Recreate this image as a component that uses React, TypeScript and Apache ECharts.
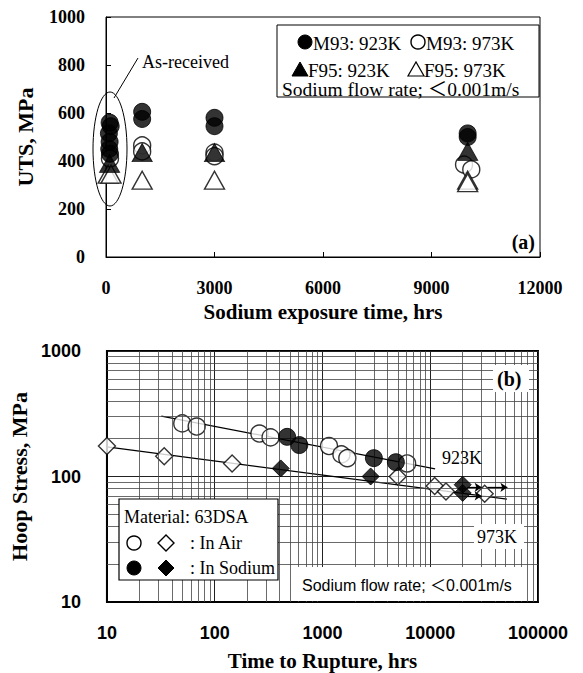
import React, { useEffect, useRef } from "react";
import * as echarts from "echarts";

// ---- (a) UTS vs sodium exposure time ----
const M93_923K: number[][] = [
  [100, 560], [130, 545], [80, 515], [100, 480], [90, 450], [110, 430],
  [1000, 605], [1000, 575],
  [3000, 580], [3000, 545],
  [10000, 515], [10000, 500],
];
const M93_973K: number[][] = [
  [110, 410],
  [1000, 465], [1000, 440],
  [3000, 435], [3000, 420],
  [9900, 385], [10100, 365],
];
const F95_923K: number[][] = [
  [100, 390],
  [1000, 435],
  [3000, 435],
  [10000, 440],
];
const F95_973K: number[][] = [
  [60, 345], [140, 345],
  [1000, 320],
  [3000, 320],
  [10000, 320], [10000, 310],
];

// ---- (b) Hoop stress vs time to rupture ----
const AIR_923K: number[][] = [
  [50, 265], [68, 250], [260, 220], [330, 205], [1150, 175], [1500, 150], [1700, 140], [6100, 127],
];
const SODIUM_923K: number[][] = [
  [470, 207], [610, 178], [3000, 140], [4800, 130],
];
const AIR_973K: number[][] = [
  [10, 175], [34, 145], [145, 127], [5000, 100], [11000, 84], [14000, 76], [32000, 73],
];
const SODIUM_973K: number[][] = [
  [410, 116], [2800, 100], [20000, 86], [20000, 74],
];
const FIT_923K: number[][] = [[32, 303], [11100, 115]];
const FIT_973K: number[][] = [[10, 172], [51500, 66]];
const RUNOUT_ARROWS: number[][][] = [
  [[22000, 82], [30000, 82]],
  [[34000, 82], [52000, 82]],
  [[22000, 70], [30000, 70]],
];
const MINOR_X: number[] = [];
const MINOR_Y: number[] = [];
for (const d of [10, 100, 1000, 10000]) for (let k = 2; k <= 9; k++) MINOR_X.push(k * d);
for (const d of [10, 100]) for (let k = 2; k <= 9; k++) MINOR_Y.push(k * d);

const SERIF = "'Liberation Serif', 'Times New Roman', serif";
const SANS = "'Liberation Sans', Arial, sans-serif";
const SERIF_CJK = "'Liberation Serif', 'Noto Sans CJK JP', serif";
const SANS_CJK = "'Liberation Sans', 'Noto Sans CJK JP', sans-serif";

function tri(cx: number, cy: number, w: number, h: number) {
  return [[cx - w / 2, cy + h / 2], [cx + w / 2, cy + h / 2], [cx, cy - h / 2]];
}
function dia(cx: number, cy: number, r: number) {
  return [[cx - r, cy], [cx, cy - r], [cx + r, cy], [cx, cy + r]];
}
const plain = (v: number) => String(Math.round(v));

export default function App() {
  const ref = useRef<HTMLDivElement>(null);
  useEffect(() => {
    const chart = echarts.init(ref.current!, null, { renderer: "svg" });
    const black = "#000";
    const openStyle = { color: "#fff", borderColor: black, borderWidth: 1.4 };
    const fillStyle = { color: black, borderColor: black, borderWidth: 1 };
    const gridLine = { color: "#444", width: 0.8, type: "solid" as const };
    const Z = 100;

    const option: any = {
      animation: false,
      backgroundColor: "#fff",
      grid: [
        { left: 106, top: 17, width: 434, height: 240, show: true, borderColor: black, borderWidth: 1, backgroundColor: "transparent" },
        { left: 106, top: 351, width: 432, height: 251, show: true, borderColor: black, borderWidth: 2, backgroundColor: "transparent" },
      ],
      xAxis: [
        {
          gridIndex: 0, type: "value", min: 0, max: 12000, interval: 3000,
          axisLine: { lineStyle: { color: black } },
          axisTick: { inside: true, length: 5, lineStyle: { color: black } },
          splitLine: { show: false },
          axisLabel: { color: black, fontFamily: SERIF, fontWeight: "bold", fontSize: 18, margin: 22, formatter: plain },
          name: "Sodium exposure time, hrs", nameLocation: "middle", nameGap: 44,
          nameTextStyle: { color: black, fontFamily: SERIF, fontWeight: "bold", fontSize: 21 },
        },
        {
          gridIndex: 1, type: "log", logBase: 10, min: 10, max: 100000,
          axisLine: { lineStyle: { color: black, width: 2 } },
          axisTick: { show: false },
          splitLine: { show: true, lineStyle: { color: "#222", width: 1 } },
          axisLabel: { color: black, fontFamily: SANS, fontWeight: "bold", fontSize: 18, margin: 22, formatter: plain },
          name: "Time to Rupture, hrs", nameLocation: "middle", nameGap: 48,
          nameTextStyle: { color: black, fontFamily: SERIF, fontWeight: "bold", fontSize: 21 },
        },
      ],
      yAxis: [
        {
          gridIndex: 0, type: "value", min: 0, max: 1000, interval: 200,
          axisLine: { lineStyle: { color: black } },
          axisTick: { inside: true, length: 5, lineStyle: { color: black } },
          splitLine: { show: false },
          axisLabel: { color: black, fontFamily: SERIF, fontWeight: "bold", fontSize: 18, margin: 21, formatter: plain },
          name: "UTS, MPa", nameLocation: "middle", nameGap: 70, nameRotate: 90,
          nameTextStyle: { color: black, fontFamily: SERIF, fontWeight: "bold", fontSize: 22 },
        },
        {
          gridIndex: 1, type: "log", logBase: 10, min: 10, max: 1000,
          axisLine: { lineStyle: { color: black, width: 2 } },
          axisTick: { show: false },
          splitLine: { show: true, lineStyle: { color: "#222", width: 1 } },
          axisLabel: { color: black, fontFamily: SANS, fontWeight: "bold", fontSize: 18, margin: 26, formatter: plain },
          name: "Hoop Stress, MPa", nameLocation: "middle", nameGap: 68, nameRotate: 90,
          nameTextStyle: { color: black, fontFamily: SERIF, fontWeight: "bold", fontSize: 22 },
        },
      ],
      series: [
        // ---- top ----
        { type: "scatter", xAxisIndex: 0, yAxisIndex: 0, data: M93_973K, symbol: "circle", symbolSize: 17, itemStyle: openStyle, z: 2 },
        { type: "scatter", xAxisIndex: 0, yAxisIndex: 0, data: F95_973K, symbol: "triangle", symbolSize: [20, 18], itemStyle: openStyle, z: 2 },
        { type: "scatter", xAxisIndex: 0, yAxisIndex: 0, data: F95_923K, symbol: "triangle", symbolSize: [20, 18], itemStyle: fillStyle, z: 3 },
        { type: "scatter", xAxisIndex: 0, yAxisIndex: 0, data: M93_923K, symbol: "circle", symbolSize: 17, itemStyle: fillStyle, z: 4 },
        // ---- bottom: minor log grid ----
        {
          type: "scatter", xAxisIndex: 1, yAxisIndex: 1, data: [[10, 10]], symbolSize: 0, silent: true, z: 1,
          markLine: {
            silent: true, symbol: ["none", "none"], label: { show: false },
            lineStyle: gridLine,
            data: [
              ...MINOR_X.map((v) => ({ xAxis: v })),
              ...MINOR_Y.map((v) => ({ yAxis: v })),
            ],
          },
        },
        { type: "line", xAxisIndex: 1, yAxisIndex: 1, data: FIT_923K, symbol: "none", lineStyle: { color: black, width: 1.3 }, z: 2 },
        { type: "line", xAxisIndex: 1, yAxisIndex: 1, data: FIT_973K, symbol: "none", lineStyle: { color: black, width: 1.3 }, z: 2 },
        {
          type: "scatter", xAxisIndex: 1, yAxisIndex: 1, data: [[10, 10]], symbolSize: 0, silent: true, z: 3,
          markLine: {
            silent: true, symbol: ["none", "arrow"], symbolSize: 7, label: { show: false },
            lineStyle: { color: black, width: 1.3, type: "solid" },
            data: RUNOUT_ARROWS.map(([a, b]) => [{ coord: a }, { coord: b }]),
          },
        },
        { type: "scatter", xAxisIndex: 1, yAxisIndex: 1, data: AIR_923K, symbol: "circle", symbolSize: 17, itemStyle: openStyle, z: 4 },
        { type: "scatter", xAxisIndex: 1, yAxisIndex: 1, data: AIR_973K, symbol: "diamond", symbolSize: [17, 17], itemStyle: openStyle, z: 4 },
        { type: "scatter", xAxisIndex: 1, yAxisIndex: 1, data: SODIUM_923K, symbol: "circle", symbolSize: 17, itemStyle: fillStyle, z: 5 },
        { type: "scatter", xAxisIndex: 1, yAxisIndex: 1, data: SODIUM_973K, symbol: "diamond", symbolSize: [17, 17], itemStyle: fillStyle, z: 5 },
      ],
      graphic: [
        // ---- top annotations ----
        { type: "ellipse", z: Z, shape: { cx: 110, cy: 149, rx: 17, ry: 57 }, style: { fill: "none", stroke: black, lineWidth: 1 } },
        { type: "line", z: Z, shape: { x1: 114, y1: 98, x2: 138, y2: 58 }, style: { stroke: black, lineWidth: 1 } },
        { type: "text", z: Z, x: 142, y: 62, style: { text: "As-received", font: `18px ${SERIF}`, fill: black, verticalAlign: "middle" } },
        { type: "rect", z: Z, shape: { x: 277, y: 25, width: 262, height: 72 }, style: { fill: "#fff", stroke: black, lineWidth: 1 } },
        { type: "circle", z: Z + 1, shape: { cx: 305, cy: 42, r: 7 }, style: { fill: black, stroke: black } },
        { type: "text", z: Z + 1, x: 313, y: 43, style: { text: "M93: 923K", font: `19px ${SERIF}`, fill: black, verticalAlign: "middle" } },
        { type: "circle", z: Z + 1, shape: { cx: 418, cy: 42, r: 7 }, style: { fill: "#fff", stroke: black, lineWidth: 1.4 } },
        { type: "text", z: Z + 1, x: 426, y: 43, style: { text: "M93: 973K", font: `19px ${SERIF}`, fill: black, verticalAlign: "middle" } },
        { type: "polygon", z: Z + 1, shape: { points: tri(300, 69, 16, 14) }, style: { fill: black, stroke: black } },
        { type: "text", z: Z + 1, x: 308, y: 70, style: { text: "F95: 923K", font: `19px ${SERIF}`, fill: black, verticalAlign: "middle" } },
        { type: "polygon", z: Z + 1, shape: { points: tri(416, 69, 16, 14) }, style: { fill: "#fff", stroke: black, lineWidth: 1.2 } },
        { type: "text", z: Z + 1, x: 424, y: 70, style: { text: "F95: 973K", font: `19px ${SERIF}`, fill: black, verticalAlign: "middle" } },
        { type: "text", z: Z + 1, x: 282, y: 89, style: { text: "Sodium flow rate; ＜0.001m/s", font: `19.5px ${SERIF_CJK}`, fill: black, verticalAlign: "middle" } },
        { type: "text", z: Z, x: 535, y: 242, style: { text: "(a)", font: `bold 20px ${SERIF}`, fill: black, align: "right", verticalAlign: "middle" } },
        // ---- bottom annotations ----
        { type: "rect", z: Z, shape: { x: 119, y: 499, width: 159, height: 81 }, style: { fill: "#fff", stroke: black, lineWidth: 1.2 } },
        { type: "text", z: Z + 1, x: 124, y: 517, style: { text: "Material: 63DSA", font: `18px ${SERIF}`, fill: black, verticalAlign: "middle" } },
        { type: "circle", z: Z + 1, shape: { cx: 134, cy: 543, r: 7 }, style: { fill: "#fff", stroke: black, lineWidth: 1.4 } },
        { type: "polygon", z: Z + 1, shape: { points: dia(166, 543, 8) }, style: { fill: "#fff", stroke: black, lineWidth: 1.4 } },
        { type: "text", z: Z + 1, x: 190, y: 543, style: { text: ": In Air", font: `18px ${SERIF}`, fill: black, verticalAlign: "middle" } },
        { type: "circle", z: Z + 1, shape: { cx: 134, cy: 568, r: 7 }, style: { fill: black, stroke: black } },
        { type: "polygon", z: Z + 1, shape: { points: dia(166, 568, 8) }, style: { fill: black, stroke: black } },
        { type: "text", z: Z + 1, x: 190, y: 568, style: { text: ": In Sodium", font: `18px ${SERIF}`, fill: black, verticalAlign: "middle" } },
        { type: "rect", z: Z, shape: { x: 296, y: 567, width: 230, height: 34 }, style: { fill: "#fff", stroke: "none" } },
        { type: "text", z: Z + 1, x: 302, y: 585, style: { text: "Sodium flow rate; ＜0.001m/s", font: `16px ${SANS_CJK}`, fill: black, verticalAlign: "middle" } },
        { type: "text", z: Z + 1, x: 442, y: 458, style: { text: "923K", font: `18px ${SERIF}`, fill: black, verticalAlign: "middle" } },
        { type: "rect", z: Z, shape: { x: 474, y: 524, width: 50, height: 25 }, style: { fill: "#fff", stroke: "none" } },
        { type: "text", z: Z + 1, x: 477, y: 537, style: { text: "973K", font: `18px ${SERIF}`, fill: black, verticalAlign: "middle" } },
        { type: "rect", z: Z, shape: { x: 493, y: 365, width: 36, height: 27 }, style: { fill: "#fff", stroke: "none" } },
        { type: "text", z: Z + 1, x: 497, y: 379, style: { text: "(b)", font: `bold 20px ${SERIF}`, fill: black, verticalAlign: "middle" } },
      ],
    };
    chart.setOption(option);
    return () => chart.dispose();
  }, []);
  return <div ref={ref} style={{ position: "fixed", left: 0, top: 0, width: 583, height: 673 }} />;
}
